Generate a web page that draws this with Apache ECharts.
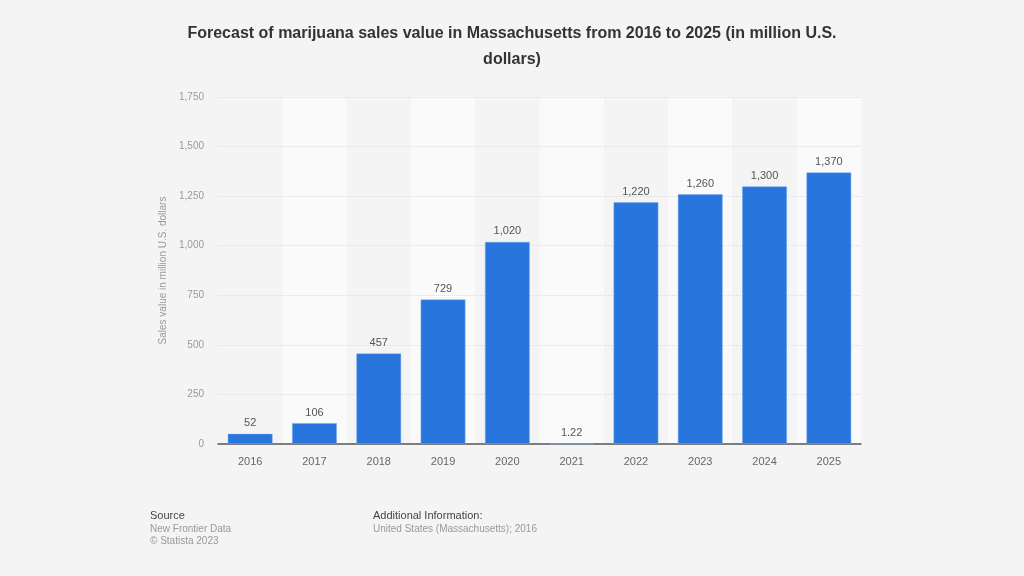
<!DOCTYPE html>
<html>
<head>
<meta charset="utf-8">
<script src="https://cdn.jsdelivr.net/npm/echarts@6/dist/echarts.min.js"></script>
<style>
html,body{margin:0;padding:0;background:#f4f4f4;}
#c{width:1024px;height:576px;}
</style>
</head>
<body>
<div id="c"></div>
<script>
var categories = ['2016','2017','2018','2019','2020','2021','2022','2023','2024','2025'];
var salesValues = [52, 106, 457, 729, 1020, 1.22, 1220, 1260, 1300, 1370];
var yTicks = [0, 250, 500, 750, 1000, 1250, 1500, 1750];

var chart = echarts.init(document.getElementById('c'));
var fmt = function (v) { return Number(v).toLocaleString('en-US'); };
chart.setOption({
  backgroundColor: '#f4f4f4',
  animation: false,
  textStyle: { fontFamily: 'Liberation Sans, Arial, sans-serif' },
  title: {
    text: 'Forecast of marijuana sales value in Massachusetts from 2016 to 2025 (in million U.S.\ndollars)',
    left: 'center',
    top: 16,
    textStyle: { fontSize: 16, fontWeight: 'bold', color: '#333', lineHeight: 26, fontFamily: 'Liberation Sans, Arial, sans-serif' }
  },
  grid: { left: 218, right: 163, top: 97, bottom: 132, containLabel: false },
  xAxis: {
    type: 'category',
    data: categories,
    z: 0,
    axisLine: { lineStyle: { color: '#555', width: 1.5 } },
    axisTick: { show: false },
    axisLabel: { color: '#666', fontSize: 11, margin: 12 },
    splitArea: { show: true, areaStyle: { color: ['rgba(244,244,244,1)', 'rgba(250,250,250,1)'] } }
  },
  yAxis: {
    type: 'value',
    z: 1,
    min: 0, max: 1750, interval: 250,
    name: 'Sales value in million U.S. dollars',
    nameLocation: 'middle',
    nameGap: 47,
    nameTextStyle: { color: '#999', fontSize: 10 },
    axisLine: { show: false },
    axisTick: { show: false },
    axisLabel: {
      color: '#999', fontSize: 10, margin: 14,
      formatter: function (v) { return yTicks.indexOf(v) >= 0 ? fmt(v) : ''; }
    },
    splitLine: { showMinLine: false, lineStyle: { color: '#dedede', type: [1, 1], width: 1 } }
  },
  series: [{
    type: 'bar',
    z: 3,
    data: salesValues,
    barCategoryGap: '30%',
    itemStyle: { color: '#2876dd', borderColor: 'rgba(120,170,240,0.6)', borderWidth: 0.8 },
    label: {
      show: true, position: 'top', distance: 5, color: '#555', fontSize: 11,
      formatter: function (p) { return p.value < 10 ? String(p.value) : fmt(p.value); }
    }
  }],
  graphic: [
    { type: 'text', left: 150, top: 510, style: { text: 'Source', fill: '#444', fontSize: 11, fontFamily: 'Liberation Sans, Arial, sans-serif' } },
    { type: 'text', left: 150, top: 524, style: { text: 'New Frontier Data', fill: '#999', fontSize: 10, fontFamily: 'Liberation Sans, Arial, sans-serif' } },
    { type: 'text', left: 150, top: 536, style: { text: '\u00A9 Statista 2023', fill: '#999', fontSize: 10, fontFamily: 'Liberation Sans, Arial, sans-serif' } },
    { type: 'text', left: 373, top: 510, style: { text: 'Additional Information:', fill: '#444', fontSize: 11, fontFamily: 'Liberation Sans, Arial, sans-serif' } },
    { type: 'text', left: 373, top: 524, style: { text: 'United States (Massachusetts); 2016', fill: '#999', fontSize: 10, fontFamily: 'Liberation Sans, Arial, sans-serif' } }
  ]
});
</script>
</body>
</html>
